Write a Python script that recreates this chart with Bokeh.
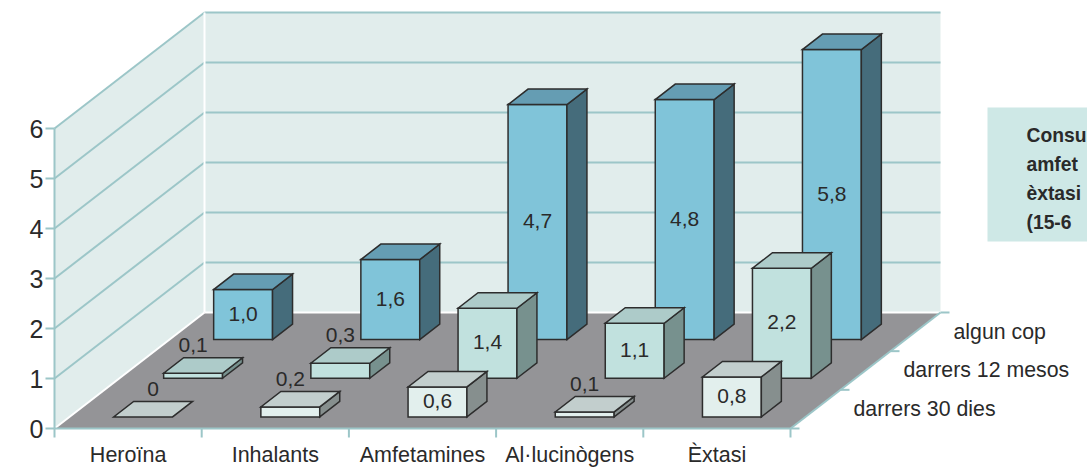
from bokeh.plotting import figure
from bokeh.models import Range1d
from bokeh.core.properties import value
from bokeh.embed import file_html
from bokeh.resources import INLINE

categories = ["Heroïna", "Inhalants", "Amfetamines", "Al·lucinògens", "Èxtasi"]
series_names = ["darrers 30 dies", "darrers 12 mesos", "algun cop"]
darrers_30_dies = [0, 0.2, 0.6, 0.1, 0.8]
darrers_12_mesos = [0.1, 0.3, 1.4, 1.1, 2.2]
algun_cop = [1.0, 1.6, 4.7, 4.8, 5.8]
y_ticks = [0, 1, 2, 3, 4, 5, 6]
box_lines = ["Consu", "amfet", "èxtasi", "(15-6"]

series = [darrers_30_dies, darrers_12_mesos, algun_cop]

# layout of the oblique projection, in page pixels
X0, Y0 = 54.0, 428.0
CAT_PX, UNIT_PX = 147.2, 50.0
DEPTH_DX, DEPTH_DY = 50.0, 38.67
DX = DEPTH_DX / CAT_PX
DY = DEPTH_DY / UNIT_PX
W, H = 1087, 468

def proj(cat, val, depth):
    return cat + depth * DX, val + depth * DY

def dx(px):
    return px / CAT_PX

def dy(px):
    return px / UNIT_PX

def page(x_px, y_px):
    return (x_px - X0) / CAT_PX, (Y0 - y_px) / UNIT_PX

p = figure(width=W, height=H, output_backend="svg", toolbar_location=None,
           x_range=Range1d(-X0 / CAT_PX, (W - X0) / CAT_PX),
           y_range=Range1d((Y0 - H) / UNIT_PX, Y0 / UNIT_PX),
           min_border=0, outline_line_color=None, background_fill_color="white",
           border_fill_color="white")
p.axis.visible = False
p.grid.visible = False

N, R, VMAX = len(categories), len(series), max(y_ticks)
TEAL, WALL, FLOOR, WHITE = "#9cc6c8", "#e1edec", "#949497", "#ffffff"
INK, TXT = "#2d2d2d", "#2a2a2a"
FONT = value("Liberation Sans")

def poly(points, **kw):
    xs, ys = zip(*points)
    p.patch(list(xs), list(ys), **kw)

def seg(a, b, color=TEAL, width=2.0):
    p.line([a[0], b[0]], [a[1], b[1]], line_color=color, line_width=width)

# walls and floor
poly([proj(0, 0, 0), proj(0, VMAX, 0), proj(0, VMAX, R), proj(0, 0, R)], fill_color=WALL, line_color=None)
poly([proj(0, 0, R), proj(0, VMAX, R), proj(N, VMAX, R), proj(N, 0, R)], fill_color=WALL, line_color=None)
poly([proj(0, 0, 0), proj(N, 0, 0), proj(N, 0, R), proj(0, 0, R)], fill_color=FLOOR, line_color=None)

# gridlines
for v in y_ticks[1:]:
    seg(proj(0, v, 0), proj(0, v, R))
    seg(proj(0, v, R), proj(N, v, R))

# white seams
seg(proj(0, 0, R), proj(0, VMAX, R), WHITE, 2.0)
seg(proj(0, 0, R), proj(N, 0, R), WHITE, 2.0)
seg(proj(0, 0, 0), proj(0, 0, R), WHITE, 2.0)

# axis lines and ticks
seg(proj(0, 0, 0), proj(0, VMAX, 0))
seg(proj(0, 0, 0), proj(N, 0, 0))
seg(proj(N, 0, 0), proj(N, 0, R))
for v in y_ticks:
    x, y = proj(0, v, 0)
    seg((x - dx(9), y), (x, y))
for i in range(N + 1):
    x, y = proj(i, 0, 0)
    seg((x, y), (x, y - dy(9)))
for r in range(R + 1):
    x, y = proj(N, 0, r)
    seg((x, y), (x + dx(9), y))

# bars, back row first
colors = [("#e2efed", "#c2cecd", "#868f8e"),
          ("#c1e1de", "#adcbc9", "#77918e"),
          ("#80c4d9", "#659db3", "#456c7b")]
BAR_A, BAR_B = 0.3, 0.7
for r in reversed(range(R)):
    front, top, side = colors[r]
    for i, v in enumerate(series[r]):
        c0, c1, d0, d1 = i + BAR_A, i + BAR_B, r + BAR_A, r + BAR_B
        style = dict(line_color=INK, line_width=1.5, line_join="miter")
        if v > 0:
            poly([proj(c0, 0, d0), proj(c1, 0, d0), proj(c1, v, d0), proj(c0, v, d0)], fill_color=front, **style)
            poly([proj(c1, 0, d0), proj(c1, 0, d1), proj(c1, v, d1), proj(c1, v, d0)], fill_color=side, **style)
        poly([proj(c0, v, d0), proj(c1, v, d0), proj(c1, v, d1), proj(c0, v, d1)], fill_color=top, **style)

# value labels
lx, ly, lt = [], [], []
for r in range(R):
    for i, v in enumerate(series[r]):
        x, y = proj(i + 0.5, v, r + BAR_A)
        if v >= 0.5:
            y = proj(i + 0.5, v / 2, r + BAR_A)[1] + dy(1)
        else:
            y += dy(28)
            if v == 0:
                x += dx(10)
        lx.append(x)
        ly.append(y)
        lt.append(f"{v:.1f}".replace(".", ",") if v else "0")
p.text(lx, ly, text=lt, text_font=FONT, text_font_size="21px", text_color=TXT,
       text_align="center", text_baseline="middle")

# y tick labels
tx = [proj(0, v, 0)[0] - dx(11) for v in y_ticks]
p.text(tx, y_ticks, text=[str(v) for v in y_ticks], text_font=FONT, text_font_size="25px",
       text_color=TXT, text_align="right", text_baseline="middle")

# category labels
p.text([i + 0.5 for i in range(N)], [-dy(26)] * N, text=categories, text_font=FONT,
       text_font_size="21.5px", text_color=TXT, text_align="center", text_baseline="middle")

# depth labels
sp = [proj(N, 0, r + 0.5) for r in range(R)]
p.text([s[0] + dx(38) for s in sp], [s[1] for s in sp], text=series_names, text_font=FONT,
       text_font_size="21.3px", text_color=TXT, text_align="left", text_baseline="middle")

# side box
bx0, by0 = page(987, 107)
bx1, by1 = page(1087, 241)
p.quad(left=[bx0], right=[bx1], top=[by0], bottom=[by1], fill_color="#cee8e6", line_color=None)
bt = [page(1026, y) for y in (135, 164, 193, 222)]
p.text([b[0] for b in bt], [b[1] for b in bt], text=box_lines, text_font=FONT, text_font_size="19.3px",
       text_font_style="bold", text_color=TXT, text_align="left", text_baseline="alphabetic")

open("out.html", "w").write(file_html(p, INLINE))
